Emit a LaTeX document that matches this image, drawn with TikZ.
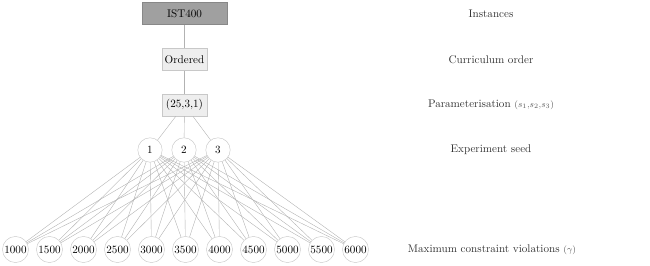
\documentclass[tikz,border=0pt]{standalone}
\usepackage{amsmath, amssymb}
\usepackage{xcolor}
\usepackage{tikz}
\usetikzlibrary{calc, shapes.geometric, positioning}

\definecolor{darkbox}{HTML}{A0A0A0}
\definecolor{lightbox}{HTML}{EEEEEE}
\definecolor{boxline}{HTML}{C8C8C8}

\tikzset{
    topbox/.style={draw=darkbox!85!black, fill=darkbox, minimum width=76pt, minimum height=19.5pt, inner sep=2pt},
    stagebox/.style={draw=boxline, fill=lightbox, minimum width=41pt, minimum height=20pt, inner sep=2pt},
    seednode/.style={circle, draw=boxline, minimum size=22pt, inner sep=0pt},
    gammanode/.style={circle, draw=boxline, minimum size=23.5pt, inner sep=0pt},
    link/.style={draw=gray!60, line width=0.35pt},
    rowlabel/.style={anchor=center, text=black!80}
}

\begin{document}
\begin{tikzpicture}[x=0.9pt, y=-0.9pt]
    \useasboundingbox (0,0) rectangle (650,266);

    % Các tầng của sơ đồ
    \node[topbox] (inst) at (184.5,13.5) {IST400};
    \node[stagebox] (order) at (184.5,59.5) {Ordered};
    \node[stagebox] (param) at (184.5,105) {(25,3,1)};

    % Hạt giống thí nghiệm
    \node[seednode] (seed1) at (150,150) {1};
    \node[seednode] (seed2) at (184,150) {2};
    \node[seednode] (seed3) at (218,150) {3};

    % Giá trị gamma
    \foreach \g [count=\i] in {1000,1500,2000,2500,3000,3500,4000,4500,5000,5500,6000}
        \node[gammanode] (gam\i) at ({15.5+34*(\i-1)},249.5) {\g};

    % Cạnh nối
    \draw[link] (inst) -- (order);
    \draw[link] (order) -- (param);
    \foreach \s in {1,2,3} {
        \draw[link] (param) -- (seed\s);
        \foreach \i in {1,...,11}
            \draw[link] (seed\s) -- (gam\i);
    }

    % Nhãn bên phải
    \node[rowlabel] (lbinst) at (491,13.5) {Instances};
    \node[rowlabel] (lborder) at (491,59.5) {Curriculum order};
    \node[rowlabel] (lbparam) at (491,105) {Parameterisation {\footnotesize\color{black!65}$(s_1{,}s_2{,}s_3)$}};
    \node[rowlabel] (lbseed) at (491,150) {Experiment seed};
    \node[rowlabel] (lbgam) at (492,249.5) {Maximum constraint violations {\footnotesize\color{black!65}$(\gamma)$}};

\end{tikzpicture}
\end{document}
